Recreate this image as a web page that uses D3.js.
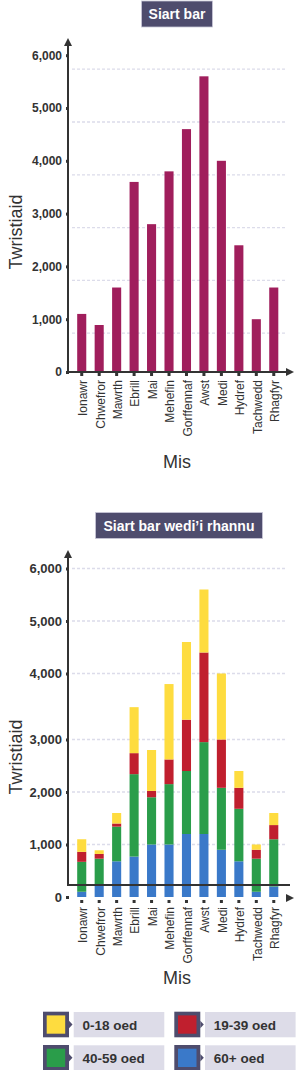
<!DOCTYPE html>
<html>
<head>
<meta charset="utf-8">
<script src="https://cdn.jsdelivr.net/npm/d3@7"></script>
<style>
  body { margin: 0; background: #fff; }
  svg text { font-family: "Liberation Sans", Arial, sans-serif; fill: #333; }
</style>
</head>
<body>
<div id="chart"></div>
<script>
// data
var months = ["Ionawr","Chwefror","Mawrth","Ebrill","Mai","Mehefin","Gorffennaf","Awst","Medi","Hydref","Tachwedd","Rhagfyr"];
var totals = [1100, 890, 1600, 3600, 2800, 3800, 4600, 5600, 4000, 2400, 1000, 1600];

var age0_18  = [240, 70, 200, 750, 780, 1220, 1300, 1200, 1000, 320, 100, 230];
var age19_39 = [190, 90, 60, 400, 120, 470, 900, 1450, 920, 400, 170, 270];
var age40_59 = [570, 490, 660, 1570, 900, 1150, 1200, 1750, 1180, 1000, 630, 900];
var age60    = [100, 240, 680, 770, 1000, 1000, 1200, 1200, 900, 680, 100, 200];

var yTicks = [0, 1000, 2000, 3000, 4000, 5000, 6000];
var ageKeys = ["age60", "age40", "age19", "age0"];
var legendLabels = ["0-18 oed", "19-39 oed", "40-59 oed", "60+ oed"];
var legendKeys = ["age0", "age19", "age40", "age60"];

var colors = {age0: "#fedc3f", age19: "#c01f2e", age40: "#2a9d4a", age60: "#3a79c9"};
var barColor = "#a01e5c";
var dark = "#333";
var boxColor = "#4e4c6d";
var fmt = d3.format(",");

var svg = d3.select("#chart").append("svg")
    .attr("width", 304)
    .attr("height", 1070);

var x = d3.scaleBand().domain(months).range([73, 282.5])
    .paddingInner(0.48).paddingOuter(0.24);

// ---- titles ----
function titleBox(cx, top, w, label) {
    svg.append("rect")
        .attr("x", cx - w / 2).attr("y", top)
        .attr("width", w).attr("height", 26)
        .attr("fill", boxColor)
        .attr("stroke", "#c9c8d8").attr("stroke-width", 0.8);
    svg.append("text")
        .attr("x", cx).attr("y", top + 13)
        .attr("dy", "0.36em")
        .attr("text-anchor", "middle")
        .style("fill", "#fff")
        .style("font-weight", "bold")
        .style("font-size", "14px")
        .text(label);
}

function arrowHead(px, py, dir) {
    // dir: "up" or "right"
    var p = dir == "up"
        ? [[px, py], [px - 4, py + 8], [px + 4, py + 8]]
        : [[px, py], [px - 8, py - 4], [px - 8, py + 4]];
    svg.append("path").attr("d", "M" + p.join("L") + "Z").attr("fill", dark);
}

function yAxisLabels(y, size) {
    var g = svg.append("g");
    yTicks.forEach(function(t) {
        g.append("rect").attr("x", 66).attr("y", y(t) - 1).attr("width", 3).attr("height", 3).attr("fill", dark);
        g.append("text")
            .attr("x", 62).attr("y", y(t))
            .attr("dy", "0.36em")
            .attr("text-anchor", "end")
            .style("font-weight", "bold")
            .style("font-size", size + "px")
            .text(fmt(t));
    });
}

function monthLabels(top) {
    var g = svg.append("g");
    months.forEach(function(m) {
        var cx = x(m) + x.bandwidth() / 2;
        g.append("rect").attr("x", cx - 1.5).attr("y", top - 7).attr("width", 3).attr("height", 3).attr("fill", dark);
        g.append("text")
            .attr("transform", "translate(" + (cx + 1) + "," + top + ") rotate(-90)")
            .attr("dy", "0.36em")
            .attr("text-anchor", "end")
            .style("font-size", "12px")
            .text(m);
    });
}

function axisTitles(yMid, misY) {
    svg.append("text")
        .attr("transform", "translate(16," + yMid + ") rotate(-90)")
        .attr("dy", "0.36em")
        .attr("text-anchor", "middle")
        .style("font-size", "18px")
        .text("Twristiaid");
    svg.append("text")
        .attr("x", 177).attr("y", misY)
        .attr("dy", "0.36em")
        .attr("text-anchor", "middle")
        .style("font-size", "18px")
        .text("Mis");
}

function gridLines(y, offset) {
    svg.append("g").selectAll("line")
        .data(yTicks.slice(1))
        .enter().append("line")
        .attr("x1", 72).attr("x2", 287)
        .attr("y1", function(d) { return y(d) + offset; })
        .attr("y2", function(d) { return y(d) + offset; })
        .attr("stroke", "#dcdcea")
        .attr("stroke-width", 1.3)
        .attr("stroke-dasharray", "3,2");
}

// ---- chart 1: Siart bar ----
titleBox(177, 1, 71, "Siart bar");

var y1 = d3.scaleLinear().domain([0, 6000]).range([372, 55.2]);

gridLines(y1, 14);

svg.append("g").selectAll("rect")
    .data(totals)
    .enter().append("rect")
    .attr("x", function(d, i) { return x(months[i]); })
    .attr("width", x.bandwidth())
    .attr("y", function(d) { return y1(d); })
    .attr("height", function(d) { return y1(0) - y1(d); })
    .attr("fill", barColor);

svg.append("line").attr("x1", 68).attr("x2", 68).attr("y1", 44).attr("y2", y1(0) + 1)
    .attr("stroke", dark).attr("stroke-width", 2);
arrowHead(68, 38, "up");
svg.append("line").attr("x1", 67).attr("x2", 288).attr("y1", y1(0)).attr("y2", y1(0))
    .attr("stroke", dark).attr("stroke-width", 2);
arrowHead(294, y1(0), "right");

yAxisLabels(y1, 12);
monthLabels(y1(0) + 8);
axisTitles(232, 462);

// ---- chart 2: Siart bar wedi'i rhannu ----
titleBox(179, 512.5, 167, "Siart bar wedi\u2019i rhannu");

// the reference axis is stretched between 3,000 and 4,000
var y2 = d3.scaleLinear().domain([0, 3000, 4000, 6000]).range([897, 739.5, 673.5, 568.5]);

gridLines(y2, 0);

var rows = months.map(function(m, i) {
    return {month: m, age0: age0_18[i], age19: age19_39[i], age40: age40_59[i], age60: age60[i]};
});
var stacked = d3.stack().keys(ageKeys)(rows);

svg.append("g").selectAll("g")
    .data(stacked)
    .enter().append("g")
    .attr("fill", function(d) { return colors[d.key]; })
    .selectAll("rect")
    .data(function(d) { return d; })
    .enter().append("rect")
    .attr("x", function(d) { return x(d.data.month); })
    .attr("width", x.bandwidth())
    .attr("y", function(d) { return y2(d[1]); })
    .attr("height", function(d) { return y2(d[0]) - y2(d[1]); });

var base2 = y2(0) - 12;
svg.append("line").attr("x1", 68).attr("x2", 68).attr("y1", 556).attr("y2", base2)
    .attr("stroke", dark).attr("stroke-width", 2);
arrowHead(68, 550, "up");
svg.append("line").attr("x1", 67).attr("x2", 290).attr("y1", base2).attr("y2", base2)
    .attr("stroke", dark).attr("stroke-width", 2.2);
arrowHead(294, y2(0) + 1, "right");

yAxisLabels(y2, 13);
monthLabels(y2(0) + 10);
axisTitles(757, 978);

// ---- legend ----
var legend = svg.append("g");
legendLabels.forEach(function(lab, i) {
    var col = i % 2, row = Math.floor(i / 2);
    var lx = col == 0 ? 43 : 174.3;
    var ly = 1011.7 + row * 33.3;
    legend.append("rect").attr("x", lx).attr("y", ly).attr("width", 26).attr("height", 25.6).attr("fill", boxColor);
    legend.append("rect").attr("x", lx + 3.7).attr("y", ly + 3.7).attr("width", 18.5).attr("height", 18.3)
        .attr("fill", colors[legendKeys[i]]);
    legend.append("path")
        .attr("d", "M" + (lx + 26) + "," + (ly + 9) + "L" + (lx + 29.5) + "," + (ly + 12.8) + "L" + (lx + 26) + "," + (ly + 16.6) + "Z")
        .attr("fill", boxColor);
    legend.append("rect").attr("x", lx + 30.7).attr("y", ly + 0.3).attr("width", 90.6).attr("height", 25.3).attr("fill", "#dddce8");
    legend.append("text")
        .attr("x", lx + 39.5).attr("y", ly + 13)
        .attr("dy", "0.36em")
        .style("font-weight", "bold")
        .style("font-size", "13.5px")
        .text(lab);
});
</script>
</body>
</html>
